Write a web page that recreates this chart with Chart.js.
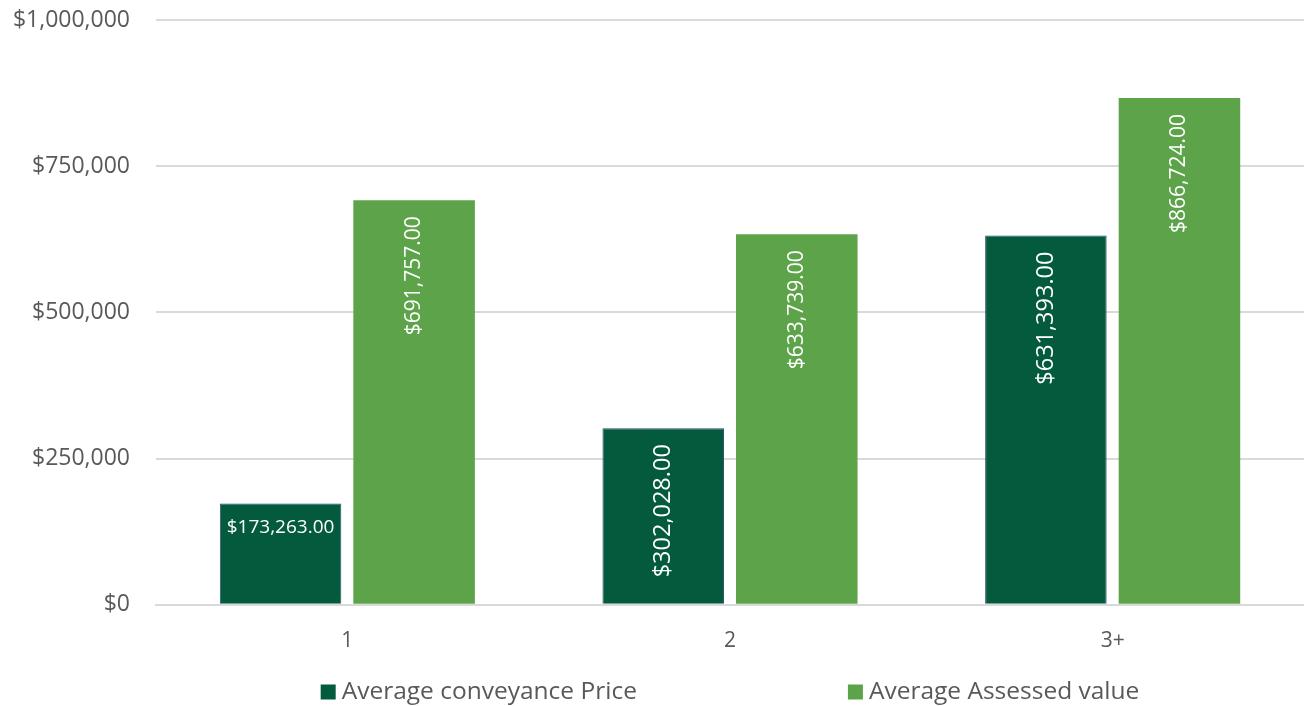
<!DOCTYPE html>
<html>
<head>
<meta charset="utf-8">
<script src="https://cdn.jsdelivr.net/npm/chart.js@4/dist/chart.umd.min.js"></script>
<style>
  html, body { margin: 0; padding: 0; background: #ffffff; }
  #wrap { width: 1304px; height: 706px; position: relative; }
</style>
</head>
<body>
<div id="wrap"><canvas id="chart"></canvas></div>
<script>
// Bedroom groups and the two averages per group
const categories = ['1', '2', '3+'];
const conveyancePrice = [173263, 302028, 631393];
const assessedValue = [691757, 633739, 866724];
const seriesNames = ['Average conveyance Price', 'Average Assessed value'];
const yTicks = [0, 250000, 500000, 750000, 1000000];

const FONT = "'Open Sans', 'Noto Sans', sans-serif";
const TEXT_GREY = '#595959';
const DARK = '#035a3c';
const LIGHT = '#5ca34a';

const money = v => '$' + Number(v).toLocaleString('en-US');
const money2 = v => '$' + Number(v).toLocaleString('en-US', { minimumFractionDigits: 2, maximumFractionDigits: 2 });

// Value labels written inside the top end of each bar
const barLabels = {
  id: 'barLabels',
  afterDatasetsDraw(chart) {
    const ctx = chart.ctx;
    ctx.save();
    ctx.fillStyle = '#ffffff';
    chart.data.datasets.forEach((ds, di) => {
      const meta = chart.getDatasetMeta(di);
      const style = ds.valueLabel;
      meta.data.forEach((bar, i) => {
        const text = money2(ds.data[i]);
        ctx.font = `${style.size}px ${FONT}`;
        const w = ctx.measureText(text).width;
        const h = bar.base - bar.y;
        if (w + 30 > h) {
          // short bar: keep the label horizontal
          ctx.font = `${style.flatSize}px ${FONT}`;
          ctx.textAlign = 'center';
          ctx.textBaseline = 'middle';
          ctx.fillText(text, bar.x, bar.y + 24);
        } else {
          ctx.save();
          ctx.translate(bar.x, bar.y + 16);
          ctx.rotate(-Math.PI / 2);
          ctx.textAlign = 'right';
          ctx.textBaseline = 'middle';
          ctx.fillText(text, 0, 0);
          ctx.restore();
        }
      });
    });
    ctx.restore();
  }
};

// Legend row under the axis, items spread apart
const spreadLegend = {
  id: 'spreadLegend',
  afterDraw(chart) {
    const ctx = chart.ctx;
    const area = chart.chartArea;
    ctx.save();
    ctx.font = `24.5px ${FONT}`;
    const box = 15, gapBox = 6, gapItems = 211;
    const items = chart.data.datasets.map(ds => ({
      label: ds.label, color: ds.backgroundColor, w: box + gapBox + ctx.measureText(ds.label).width
    }));
    const total = items.reduce((s, it) => s + it.w, 0) + gapItems * (items.length - 1);
    let x = (area.left + area.right) / 2 - total / 2;
    const y = 692;
    items.forEach(it => {
      ctx.fillStyle = it.color;
      ctx.fillRect(x, y - box / 2, box, box);
      ctx.fillStyle = TEXT_GREY;
      ctx.textAlign = 'left';
      ctx.textBaseline = 'middle';
      ctx.fillText(it.label, x + box + gapBox, y);
      x += it.w + gapItems;
    });
    ctx.restore();
  }
};

new Chart(document.getElementById('chart'), {
  type: 'bar',
  data: {
    labels: categories,
    datasets: [
      { label: seriesNames[0], data: conveyancePrice, backgroundColor: DARK, borderColor: '#2b4f6e', borderWidth: 1, borderSkipped: 'bottom',
        valueLabel: { size: 23.5, flatSize: 19 } },
      { label: seriesNames[1], data: assessedValue, backgroundColor: LIGHT, borderWidth: 0,
        valueLabel: { size: 21, flatSize: 19 } }
    ]
  },
  options: {
    responsive: true,
    maintainAspectRatio: false,
    animation: false,
    devicePixelRatio: 1,
    layout: { padding: { top: 0, right: 0, bottom: 28, left: 0 } },
    datasets: { bar: { categoryPercentage: 0.698, barPercentage: 0.91 } },
    plugins: {
      legend: { display: false },
      tooltip: { enabled: false }
    },
    scales: {
      x: {
        grid: { display: false, drawTicks: false },
        border: { display: true, color: '#d9d9d9', width: 2 },
        ticks: { color: TEXT_GREY, font: { family: FONT, size: 21 }, padding: 24 }
      },
      y: {
        min: 0,
        max: 1000000,
        afterBuildTicks(scale) { scale.ticks = yTicks.map(v => ({ value: v })); },
        afterFit(scale) {
          scale.width = 156;
          scale.paddingTop = 20;
          scale.paddingBottom = 0;
        },
        grid: { color: '#d9d9d9', lineWidth: 2, drawTicks: false },
        border: { display: false },
        ticks: { color: TEXT_GREY, font: { family: FONT, size: 23 }, padding: 26, callback: v => money(v) }
      }
    }
  },
  plugins: [barLabels, spreadLegend]
});
</script>
</body>
</html>
